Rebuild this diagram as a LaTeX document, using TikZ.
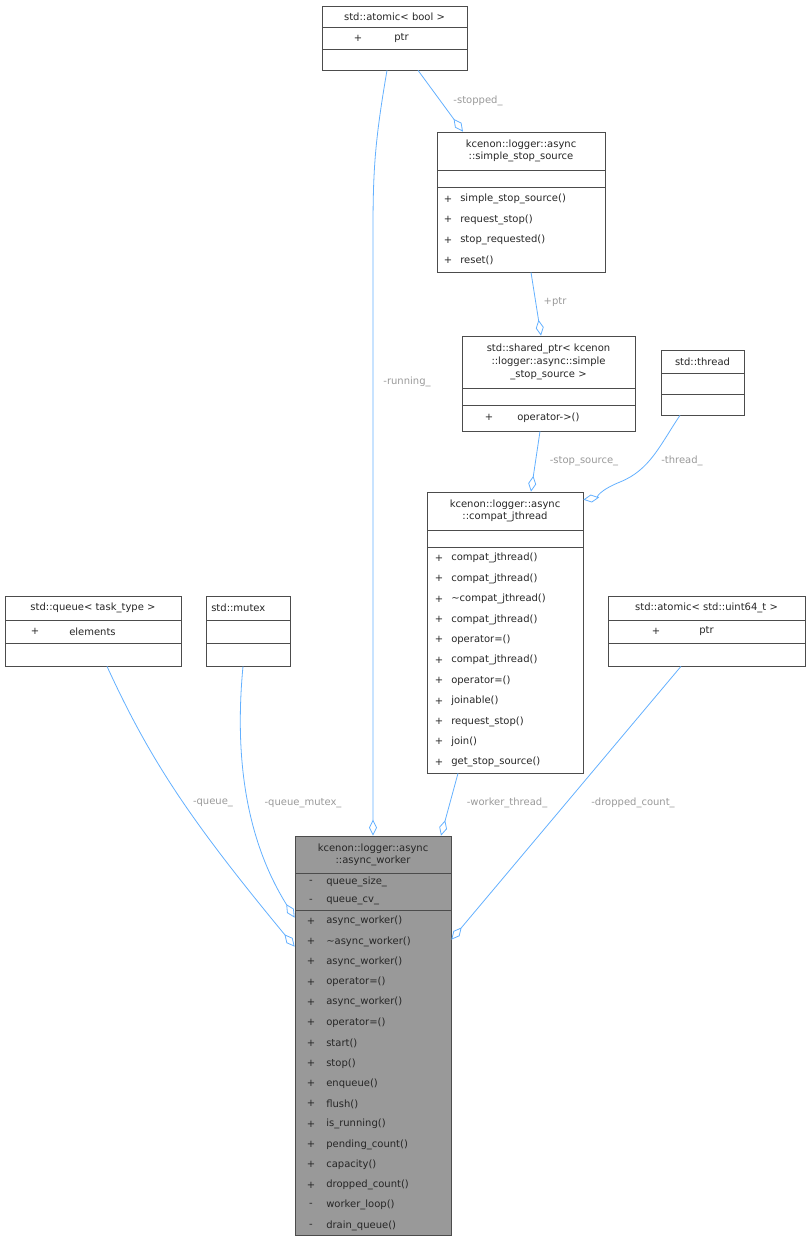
\documentclass[tikz,border=0pt]{standalone}
\usepackage{fontspec}
\setmainfont{DejaVu Sans}
\usetikzlibrary{arrows.meta,calc,fit}
\begin{document}
\begin{tikzpicture}[x=0.75pt,y=-0.75pt,
  box/.style={draw=black!70,line width=0.5pt,inner sep=0pt},
  txt/.style={font=\fontsize{7.5}{9.5}\selectfont,inner sep=0pt,text=black!85},
  edge/.style={draw=cyan!60!blue!45!white,color={rgb,255:red,99;green,176;blue,255},line width=0.6pt,-{Diamond[open,length=12pt,width=6pt,fill=white]}},
  lbl/.style={font=\fontsize{7.5}{9.5}\selectfont,text=black!40,inner sep=1pt}]
\newcommand\mrows[6]{% x, y0, step, signx, namex, list
  \foreach \s/\n [count=\i] in {#6} {
    \node[txt] at ({#1+#4},{#2+(\i-0.5)*#3}) {\s};
    \node[txt,anchor=west] at ({#1+#5},{#2+(\i-0.5)*#3}) {\n};}}
\useasboundingbox (0,0) rectangle (811,1241);
% atomic<bool>
\node[box,fit={(322,6)(467,70)}] (atb) {};
\draw[black!70,line width=0.5pt] (322,27)--(467,27) (322,49)--(467,49);
\node[txt] at (394.5,16.5) {std::atomic< bool >};
\mrows{322}{27}{22}{36}{72}{+/ptr}
% simple_stop_source
\node[box,fit={(437,132)(605,272)}] (sss) {};
\draw[black!70,line width=0.5pt] (437,170)--(605,170) (437,187)--(605,187);
\node[txt,align=center] at (521,151) {kcenon::logger::async\\::simple\_stop\_source};
\mrows{437}{189}{20.5}{11}{23}{+/simple\_stop\_source(),+/request\_stop(),+/stop\_requested(),+/reset()}
% shared_ptr
\node[box,fit={(462,336)(635,431)}] (shp) {};
\draw[black!70,line width=0.5pt] (462,388)--(635,388) (462,405)--(635,405);
\node[txt,align=center] at (548.5,362) {std::shared\_ptr< kcenon\\::logger::async::simple\\\_stop\_source >};
\mrows{462}{405}{25}{27}{55}{+/operator->()}
% thread
\node[box,fit={(661,350)(744,415)}] (thr) {};
\draw[black!70,line width=0.5pt] (661,373)--(744,373) (661,394)--(744,394);
\node[txt] at (702.5,361.5) {std::thread};
% compat_jthread
\node[box,fit={(427,492)(583,773)}] (cj) {};
\draw[black!70,line width=0.5pt] (427,530)--(583,530) (427,547)--(583,547);
\node[txt,align=center] at (505,511) {kcenon::logger::async\\::compat\_jthread};
\mrows{427}{548}{20.4}{12}{24}{+/compat\_jthread(),+/compat\_jthread(),+/\textasciitilde compat\_jthread(),+/compat\_jthread(),+/operator=(),+/compat\_jthread(),+/operator=(),+/joinable(),+/request\_stop(),+/join(),+/get\_stop\_source()}
% queue
\node[box,fit={(5,596)(181,666)}] (q) {};
\draw[black!70,line width=0.5pt] (5,620)--(181,620) (5,643)--(181,643);
\node[txt] at (93,608) {std::queue< task\_type >};
\mrows{5}{620}{23}{30}{64}{+/elements}
% mutex
\node[box,fit={(206,596)(290,666)}] (mx) {};
\draw[black!70,line width=0.5pt] (206,620)--(290,620) (206,643)--(290,643);
\node[txt,anchor=west] at (211,608) {std::mutex};
% atomic uint64
\node[box,fit={(608,596)(805,666)}] (au) {};
\draw[black!70,line width=0.5pt] (608,620)--(805,620) (608,643)--(805,643);
\node[txt] at (706.5,608) {std::atomic< std::uint64\_t >};
\mrows{608}{620}{23}{48}{91}{+/ptr}
% async_worker
\node[box,fill={rgb,255:red,153;green,153;blue,153},fit={(295,836)(451,1235)}] (aw) {};
\draw[black!70,line width=0.5pt] (295,873)--(451,873) (295,910)--(451,910);
\node[txt,align=center] at (373,855) {kcenon::logger::async\\::async\_worker};
\mrows{295}{873}{18.5}{16}{31}{-/queue\_size\_,-/queue\_cv\_}
\mrows{295}{911}{20.3}{16}{31}{+/async\_worker(),+/\textasciitilde async\_worker(),+/async\_worker(),+/operator=(),+/async\_worker(),+/operator=(),+/start(),+/stop(),+/enqueue(),+/flush(),+/is\_running(),+/pending\_count(),+/capacity(),+/dropped\_count(),-/worker\_loop(),-/drain\_queue()}
% edges
\draw[edge] ($(atb.south)+(-7.5,0)$) .. controls (375,140) and (373,170) .. (373,230) -- (aw.north);
\node[lbl] at (407,382) {-running\_};
\draw[edge] ($(atb.south)+(23.5,0)$) -- ($(sss.north)+(-58,0)$);
\node[lbl] at (478,101) {-stopped\_};
\draw[edge] ($(sss.south)+(10,0)$) -- ($(shp.north)+(-7.5,0)$);
\node[lbl] at (555,302) {+ptr};
\draw[edge] ($(shp.south)+(-8.5,0)$) -- ($(cj.north)+(26,0)$);
\node[lbl] at (584,461) {-stop\_source\_};
\draw[edge] ($(thr.south)+(-22.5,0)$) .. controls (660,445) and (650,470) .. (620,482) .. controls (600,490) and (595,498) .. ($(cj.north east)+(0,8)$);
\node[lbl] at (682,461) {-thread\_};
\draw[edge] ($(cj.south)+(-47,0)$) -- ($(aw.north)+(68,0)$);
\node[lbl] at (507,803) {-worker\_thread\_};
\draw[edge] ($(q.south)+(14,0)$) .. controls (150,760) and (190,820) .. ($(aw.north west)+(0,111)$);
\node[lbl] at (213,803) {-queue\_};
\draw[edge] ($(mx.south)+(-5,0)$) .. controls (236,740) and (240,830) .. ($(aw.north west)+(0,82)$);
\node[lbl] at (303,803) {-queue\_mutex\_};
\draw[edge] ($(au.south)+(-25.5,0)$) -- ($(aw.north east)+(0,104)$);
\node[lbl] at (633,803) {-dropped\_count\_};
\end{tikzpicture}
\end{document}
